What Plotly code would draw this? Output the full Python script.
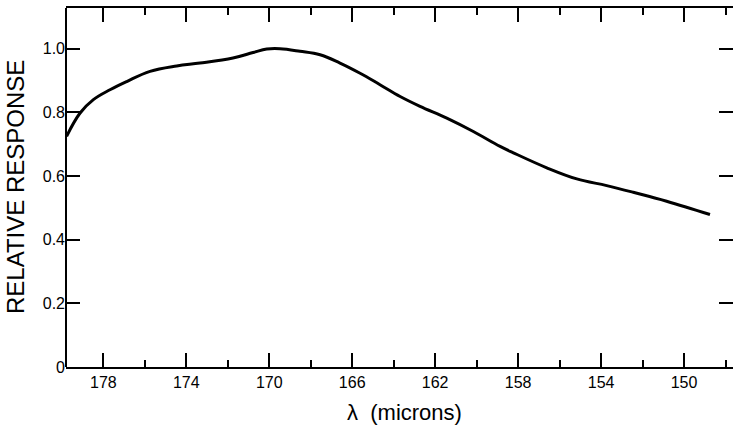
import plotly.graph_objects as go

# Data
wavelength = [179.77, 179.12, 178.48, 177.68, 176.87, 175.75, 174.46, 173.34, 171.75,
              170.78, 170.12, 169.48, 168.52, 167.55, 166.59, 165.62, 164.66, 163.69,
              162.73, 161.44, 160.16, 158.87, 158.23, 156.62, 155.17, 153.73, 152.45,
              150.84, 148.75]
response = [0.725, 0.798, 0.840, 0.871, 0.897, 0.929, 0.946, 0.955, 0.971,
            0.988, 0.999, 1.000, 0.992, 0.981, 0.955, 0.923, 0.887, 0.850,
            0.819, 0.782, 0.740, 0.693, 0.673, 0.626, 0.591, 0.570, 0.549,
            0.521, 0.479]

x_ticks = [178, 174, 170, 166, 162, 158, 154, 150]
x_ticklabels = ["178", "174", "170", "166", "162", "158", "154", "150"]
y_ticks = [0, 0.2, 0.4, 0.6, 0.8, 1.0]
y_ticklabels = ["0", "0.2", "0.4", "0.6", "0.8", "1.0"]

FONT = "Liberation Sans"

fig = go.Figure()
fig.add_trace(go.Scatter(
    x=wavelength, y=response, mode="lines",
    line=dict(color="black", width=3, shape="spline", smoothing=1.1),
    hoverinfo="skip", showlegend=False,
))

fig.update_layout(
    width=733, height=427,
    margin=dict(l=66, r=0, t=8, b=60),
    paper_bgcolor="white", plot_bgcolor="white",
    font=dict(family=FONT, color="black", size=16),
    xaxis=dict(
        range=[179.8, 147.64], tickmode="array", tickvals=x_ticks, ticktext=x_ticklabels,
        ticks="inside", ticklen=14, tickwidth=2, tickcolor="black",
        showline=True, linewidth=2, linecolor="black", mirror="ticks",
        showgrid=False, zeroline=False,
        minor=dict(dtick=2, tick0=0, ticks="inside", ticklen=7, tickwidth=2,
                   tickcolor="black", showgrid=False),
        tickfont=dict(size=16, family=FONT),
    ),
    yaxis=dict(
        range=[0, 1.128], tickmode="array", tickvals=y_ticks, ticktext=y_ticklabels,
        ticks="inside", ticklen=14, tickwidth=2, tickcolor="black",
        showline=False, mirror="ticks",
        showgrid=False, zeroline=False,
        tickfont=dict(size=16, family=FONT),
    ),
    shapes=[dict(type="line", xref="paper", yref="paper", x0=0, x1=0, y0=0, y1=1,
                 line=dict(color="black", width=2))],
    annotations=[
        dict(text="RELATIVE RESPONSE", xref="paper", yref="paper", x=-0.0757, y=0.5,
             xanchor="center", yanchor="middle", textangle=-90, showarrow=False,
             font=dict(size=24, family=FONT)),
        dict(text="λ  (microns)", xref="paper", yref="paper", x=0.507, y=-0.128,
             xanchor="center", yanchor="middle", showarrow=False,
             font=dict(size=22, family=FONT)),
    ],
)

fig.write_html("out.html")
